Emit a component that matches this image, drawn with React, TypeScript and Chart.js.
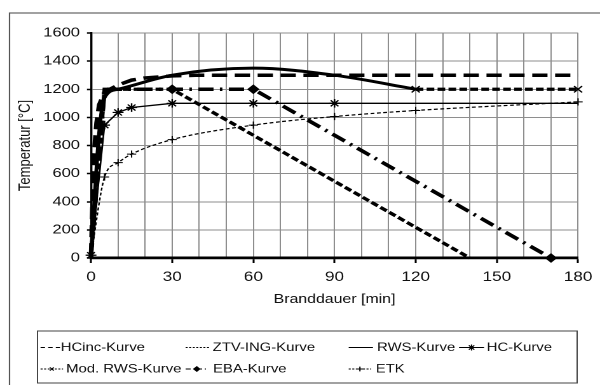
import React, { useEffect, useRef } from 'react';
import { Chart, registerables } from 'chart.js';
import { drawPoint } from 'chart.js/helpers';

Chart.register(...registerables);

// ---- data (minutes, °C) ----
const hcIncTime = [0, 1, 2, 3, 5, 10, 15, 20, 30, 40, 60, 120, 180];
const hcIncTemp = [20, 720, 960, 1090, 1180, 1230, 1265, 1280, 1295, 1300, 1300, 1300, 1300];
const ztvTime = [0, 5, 30, 140];
const ztvTemp = [20, 1200, 1200, 0];
const rwsTime = [0, 3, 5, 10, 30, 60, 90, 120];
const rwsTemp = [20, 890, 1140, 1200, 1300, 1350, 1300, 1200];
const hcTime = [0, 5, 10, 15, 30, 60, 90, 180];
const hcTemp = [20, 945, 1035, 1070, 1100, 1100, 1100, 1100];
const modRwsTime = [120, 180];
const modRwsTemp = [1200, 1200];
const ebaTime = [0, 5, 30, 60, 170];
const ebaTemp = [20, 1200, 1200, 1200, 0];
const etkTime = [0, 5, 10, 15, 30, 60, 90, 120, 180];
const etkTemp = [20, 576, 678, 739, 842, 945, 1006, 1049, 1110];

const xTickLabels = [0, 30, 60, 90, 120, 150, 180];
const yTickLabels = [0, 200, 400, 600, 800, 1000, 1200, 1400, 1600];
const seriesNames = ['HCinc-Kurve', 'ZTV-ING-Kurve', 'RWS-Kurve', 'HC-Kurve', 'Mod. RWS-Kurve', 'EBA-Kurve', 'ETK'];
const xTitle = 'Branddauer [min]';
const yTitle = 'Temperatur [°C]';

// ---- layout (canvas is drawn narrow and stretched horizontally like the reference) ----
const SX = 600 / 472;
const CW = 472;
const CH = 385;
const FONT = '"Liberation Sans", Arial, sans-serif';

const pts = (t: number[], v: number[]) => t.map((x, i) => ({ x, y: v[i] }));

const legendLayout = [
  { row: 0, x0: 31.9, x1: 47.2, tx: 47.8, dash: [3.5, 2.5], marker: null as string | null, mr: 0 },
  { row: 0, x0: 146, x1: 165.2, tx: 167.3, dash: [1.6, 1.2], marker: null, mr: 0 },
  { row: 0, x0: 274.3, x1: 293.4, tx: 296.6, dash: [], marker: null, mr: 0 },
  { row: 0, x0: 361.1, x1: 380.8, tx: 382.9, dash: [], marker: 'star', mr: 3 },
  { row: 1, x0: 31.9, x1: 49.6, tx: 52.0, dash: [1.6, 1.2], marker: 'crossRot', mr: 2.2 },
  { row: 1, x0: 146, x1: 163.6, tx: 167.6, dash: [4, 2, 1, 2], marker: 'rectRot', mr: 2.3 },
  { row: 1, x0: 274.3, x1: 291.9, tx: 295.6, dash: [1.6, 1.2], marker: 'cross', mr: 2.4 },
];
const legendRowsY = [347.5, 369];

const framePlugin = {
  id: 'frameLegend',
  beforeDraw(chart: any) {
    const ctx = chart.ctx;
    ctx.save();
    ctx.fillStyle = '#fff';
    ctx.fillRect(0, 0, chart.width, chart.height);
    ctx.restore();
  },
  afterDraw(chart: any) {
    const ctx = chart.ctx;
    ctx.save();
    ctx.strokeStyle = '#555';
    ctx.lineWidth = 1.1;
    ctx.setLineDash([]);
    ctx.strokeRect(7.5, 13, chart.width + 20, chart.height + 20);
    ctx.strokeStyle = '#444';
    ctx.lineWidth = 1;
    ctx.strokeRect(29.5, 331, 424.5, 52);
    ctx.font = '11.7px ' + FONT;
    ctx.textBaseline = 'middle';
    ctx.textAlign = 'left';
    ctx.fillStyle = '#111';
    legendLayout.forEach((it, i) => {
      const y = legendRowsY[it.row];
      ctx.save();
      ctx.strokeStyle = '#000';
      ctx.lineWidth = 1.1;
      ctx.setLineDash(it.dash);
      ctx.beginPath();
      ctx.moveTo(it.x0, y);
      ctx.lineTo(it.x1, y);
      ctx.stroke();
      ctx.setLineDash([]);
      if (it.marker) {
        ctx.fillStyle = '#000';
        ctx.strokeStyle = '#000';
        ctx.lineWidth = 1;
        drawPoint(ctx, { pointStyle: it.marker as any, rotation: 0, radius: it.mr, borderWidth: 1 }, (it.x0 + it.x1) / 2, y);
      }
      ctx.restore();
      ctx.fillText(seriesNames[i], it.tx, y + 0.5);
    });
    ctx.restore();
  },
};

export default function App() {
  const ref = useRef<HTMLCanvasElement | null>(null);

  useEffect(() => {
    if (!ref.current) return;
    const thick = 3.5;
    const chart = new Chart(ref.current, {
      type: 'line',
      data: {
        datasets: [
          {
            label: seriesNames[0],
            data: pts(hcIncTime, hcIncTemp),
            borderColor: '#000', borderWidth: thick, borderDash: [12, 6],
            pointRadius: 0, tension: 0, clip: false as any,
          },
          {
            label: seriesNames[1],
            data: pts(ztvTime, ztvTemp),
            borderColor: '#000', borderWidth: 3.2, borderDash: [6, 2.6],
            pointRadius: 0, tension: 0, clip: false as any,
          },
          {
            label: seriesNames[2],
            data: pts(rwsTime, rwsTemp),
            borderColor: '#000', borderWidth: 3, borderDash: [],
            pointRadius: 0, tension: 0.35, cubicInterpolationMode: 'monotone', clip: false as any,
          },
          {
            label: seriesNames[3],
            data: pts(hcTime, hcTemp),
            borderColor: '#000', borderWidth: 1.3,
            pointStyle: 'star', pointRadius: [4.3, 4.3, 4.3, 4.3, 4.3, 4.3, 4.3, 0],
            pointBorderColor: '#000', pointBorderWidth: 1.2, pointBackgroundColor: '#000',
            tension: 0, clip: false as any,
          },
          {
            label: seriesNames[4],
            data: pts(modRwsTime, modRwsTemp),
            borderColor: '#000', borderWidth: 3.2, borderDash: [6, 2.6],
            pointStyle: 'crossRot', pointRadius: 4.5,
            pointBorderColor: '#000', pointBorderWidth: 1.2,
            tension: 0, clip: false as any,
          },
          {
            label: seriesNames[5],
            data: pts(ebaTime, ebaTemp),
            borderColor: '#000', borderWidth: thick, borderDash: [12, 5, 2, 5],
            pointStyle: 'rectRot', pointRadius: [0, 0, 4.2, 4.2, 4.2],
            pointBorderColor: '#000', pointBackgroundColor: '#000', pointBorderWidth: 1,
            tension: 0, clip: false as any,
          },
          {
            label: seriesNames[6],
            data: pts(etkTime, etkTemp),
            borderColor: '#000', borderWidth: 1.2, borderDash: [3, 2],
            pointStyle: 'cross', pointRadius: 3.6,
            pointBorderColor: '#000', pointBorderWidth: 1,
            tension: 0.3, cubicInterpolationMode: 'monotone', clip: false as any,
          },
        ],
      },
      options: {
        responsive: false,
        animation: false,
        devicePixelRatio: 2,
        layout: { padding: { left: 8, top: 33, right: 10.2, bottom: 74.2 } },
        plugins: {
          legend: { display: false },
          tooltip: { enabled: false },
        },
        scales: {
          x: {
            type: 'linear',
            min: 0,
            max: 180,
            afterFit: (s: any) => { s.height = 52.8; },
            ticks: {
              stepSize: 10,
              autoSkip: false,
              maxRotation: 0,
              padding: 6,
              color: '#111',
              font: { family: FONT, size: 13.5 },
              callback: (v: any) => (xTickLabels.includes(Number(v)) ? String(v) : ''),
            },
            grid: {
              color: '#8e8e8e',
              lineWidth: 1,
              tickLength: 5,
              tickWidth: 1.5,
              tickColor: (c: any) => (c.tick && xTickLabels.includes(c.tick.value) ? '#000' : 'rgba(0,0,0,0)'),
            },
            border: { color: '#000', width: 2.7 },
            title: {
              display: true,
              text: xTitle,
              color: '#111',
              font: { family: FONT, size: 12.5 },
            },
          },
          y: {
            type: 'linear',
            min: 0,
            max: 1600,
            afterFit: (s: any) => { s.width = 63.6; },
            ticks: {
              stepSize: 200,
              autoSkip: false,
              padding: 5.5,
              color: '#111',
              font: { family: FONT, size: 13 },
              callback: (v: any) => (yTickLabels.includes(Number(v)) ? String(v) : ''),
            },
            grid: {
              color: '#8e8e8e',
              lineWidth: 1,
              tickLength: 3.2,
              tickWidth: 1.5,
              tickColor: '#000',
            },
            border: { color: '#000', width: 1.7 },
            title: {
              display: true,
              text: yTitle,
              color: '#111',
              font: { family: FONT, size: 13 },
            },
          },
        },
      },
      plugins: [framePlugin],
    });
    return () => chart.destroy();
  }, []);

  return (
    <div style={{ position: 'fixed', left: 0, top: 0, width: 600, height: 385, overflow: 'hidden', background: '#fff' }}>
      <canvas
        ref={ref}
        width={CW}
        height={CH}
        style={{ position: 'absolute', left: 0, top: 0, transform: `scaleX(${SX})`, transformOrigin: '0 0' }}
      />
    </div>
  );
}
